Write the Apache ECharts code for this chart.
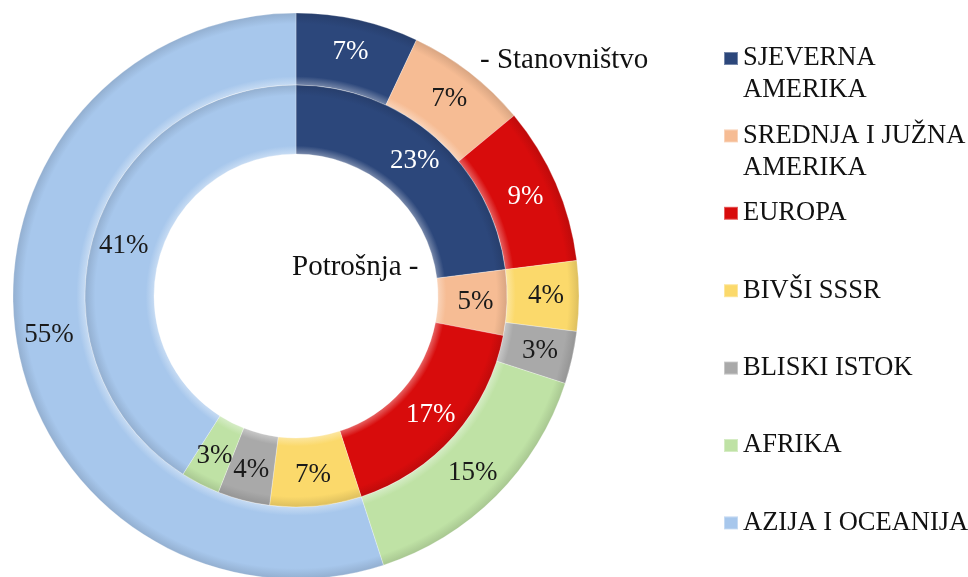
<!DOCTYPE html>
<html lang="hr">
<head>
    <meta charset="UTF-8">
    <title>Stanovništvo i potrošnja</title>
    <script src="https://cdn.jsdelivr.net/npm/echarts@6/dist/echarts.min.js"></script>
    <style>
        html, body { margin: 0; padding: 0; background: #fff; }
        #main { width: 968px; height: 577px; }
    </style>
</head>
<body>
<div id="main"></div>
<script>
    // regije (redoslijed kao u legendi)
    var regije = ['SJEVERNA\nAMERIKA', 'SREDNJA I JUŽNA\nAMERIKA', 'EUROPA', 'BIVŠI SSSR', 'BLISKI ISTOK', 'AFRIKA', 'AZIJA I OCEANIJA'];
    // vanjski prsten - stanovništvo (%)
    var stanovnistvo = [7, 7, 9, 4, 3, 15, 55];
    // unutarnji prsten - potrošnja (%)
    var potrosnja = [23, 5, 17, 7, 4, 3, 41];

    var boje = ['#2c477b', '#f6bc94', '#d80c0c', '#fbd96b', '#a9a9a9', '#bfe2a5', '#a7c7ec'];
    var bijeliTekst = [true, false, true, false, false, false, false];

    var cx = 296, cy = 296;
    var font = '"Liberation Serif", "Times New Roman", serif';

    function svijetlije(hex, f) {
        var n = parseInt(hex.slice(1), 16);
        var r = (n >> 16) & 255, g = (n >> 8) & 255, b = n & 255;
        r = Math.round(r + (255 - r) * f); g = Math.round(g + (255 - g) * f); b = Math.round(b + (255 - b) * f);
        return 'rgb(' + r + ',' + g + ',' + b + ')';
    }
    function tamnije(hex, f) {
        var n = parseInt(hex.slice(1), 16);
        var r = (n >> 16) & 255, g = (n >> 8) & 255, b = n & 255;
        return 'rgb(' + Math.round(r * (1 - f)) + ',' + Math.round(g * (1 - f)) + ',' + Math.round(b * (1 - f)) + ')';
    }

    // radijalni gradijent - "cijev" efekt za prsten
    function prstenBoja(hex, r0, r1) {
        var a = r0 / r1;
        return {
            type: 'radial', x: cx, y: cy, r: r1, global: true,
            colorStops: [
                { offset: 0, color: hex },
                { offset: a, color: svijetlije(hex, 0.35) },
                { offset: a + (1 - a) * 0.12, color: hex },
                { offset: a + (1 - a) * 0.85, color: hex },
                { offset: 1, color: tamnije(hex, 0.12) }
            ]
        };
    }

    function podaci(vrijednosti, r0, r1) {
        return vrijednosti.map(function (v, i) {
            return {
                name: regije[i],
                value: v,
                itemStyle: { color: prstenBoja(boje[i], r0, r1) },
                label: { color: bijeliTekst[i] ? '#ffffff' : '#1a1a1a' }
            };
        });
    }

    var myChart = echarts.init(document.getElementById('main'));

    // jedna legenda po stavci; kod dvorednih naziva prazan redak gore
    // kako bi ikona stajala uz prvi redak
    var legende = regije.map(function (ime, i) {
        var dvaRetka = ime.indexOf('\n') >= 0;
        var sredina = 56.5 + i * 77.4;
        return {
            data: [{ name: ime, itemStyle: { color: boje[i] } }],
            orient: 'vertical',
            left: 723,
            top: dvaRetka ? sredina - 46 : sredina - 14,
            padding: 0,
            itemWidth: 14,
            itemHeight: 13,
            icon: 'rect',
            selectedMode: false,
            formatter: function (n) { return n.indexOf('\n') >= 0 ? ' \n' + n : n; },
            textStyle: {
                fontFamily: font,
                fontSize: 26.5,
                lineHeight: 32,
                color: '#111'
            }
        };
    });

    var option = {
        animation: false,
        legend: legende,
        graphic: [
            { type: 'text', left: 480, top: 46, style: { text: '- Stanovništvo', font: '29px ' + font, fill: '#111' } },
            { type: 'text', left: 292, top: 253, style: { text: 'Potrošnja -', font: '29px ' + font, fill: '#111' } }
        ],
        series: [{
            name: 'Stanovništvo',
            type: 'pie',
            center: [cx, cy],
            radius: [211, 283],
            startAngle: 90,
            clockwise: true,
            avoidLabelOverlap: false,
            itemStyle: { borderColor: 'rgba(255,255,255,0.35)', borderWidth: 0.8 },
            label: {
                show: true,
                position: 'inside',
                formatter: '{c}%',
                fontFamily: font,
                fontSize: 27
            },
            labelLine: { show: false },
            emphasis: { disabled: true },
            data: podaci(stanovnistvo, 211, 283)
        }, {
            name: 'Potrošnja',
            type: 'pie',
            center: [cx, cy],
            radius: [142, 211],
            startAngle: 90,
            clockwise: true,
            avoidLabelOverlap: false,
            itemStyle: { borderColor: 'rgba(255,255,255,0.35)', borderWidth: 0.8 },
            label: {
                show: true,
                position: 'inside',
                formatter: '{c}%',
                fontFamily: font,
                fontSize: 27
            },
            labelLine: { show: false },
            emphasis: { disabled: true },
            data: podaci(potrosnja, 142, 211)
        }]
    };

    myChart.setOption(option);
</script>
</body>
</html>
